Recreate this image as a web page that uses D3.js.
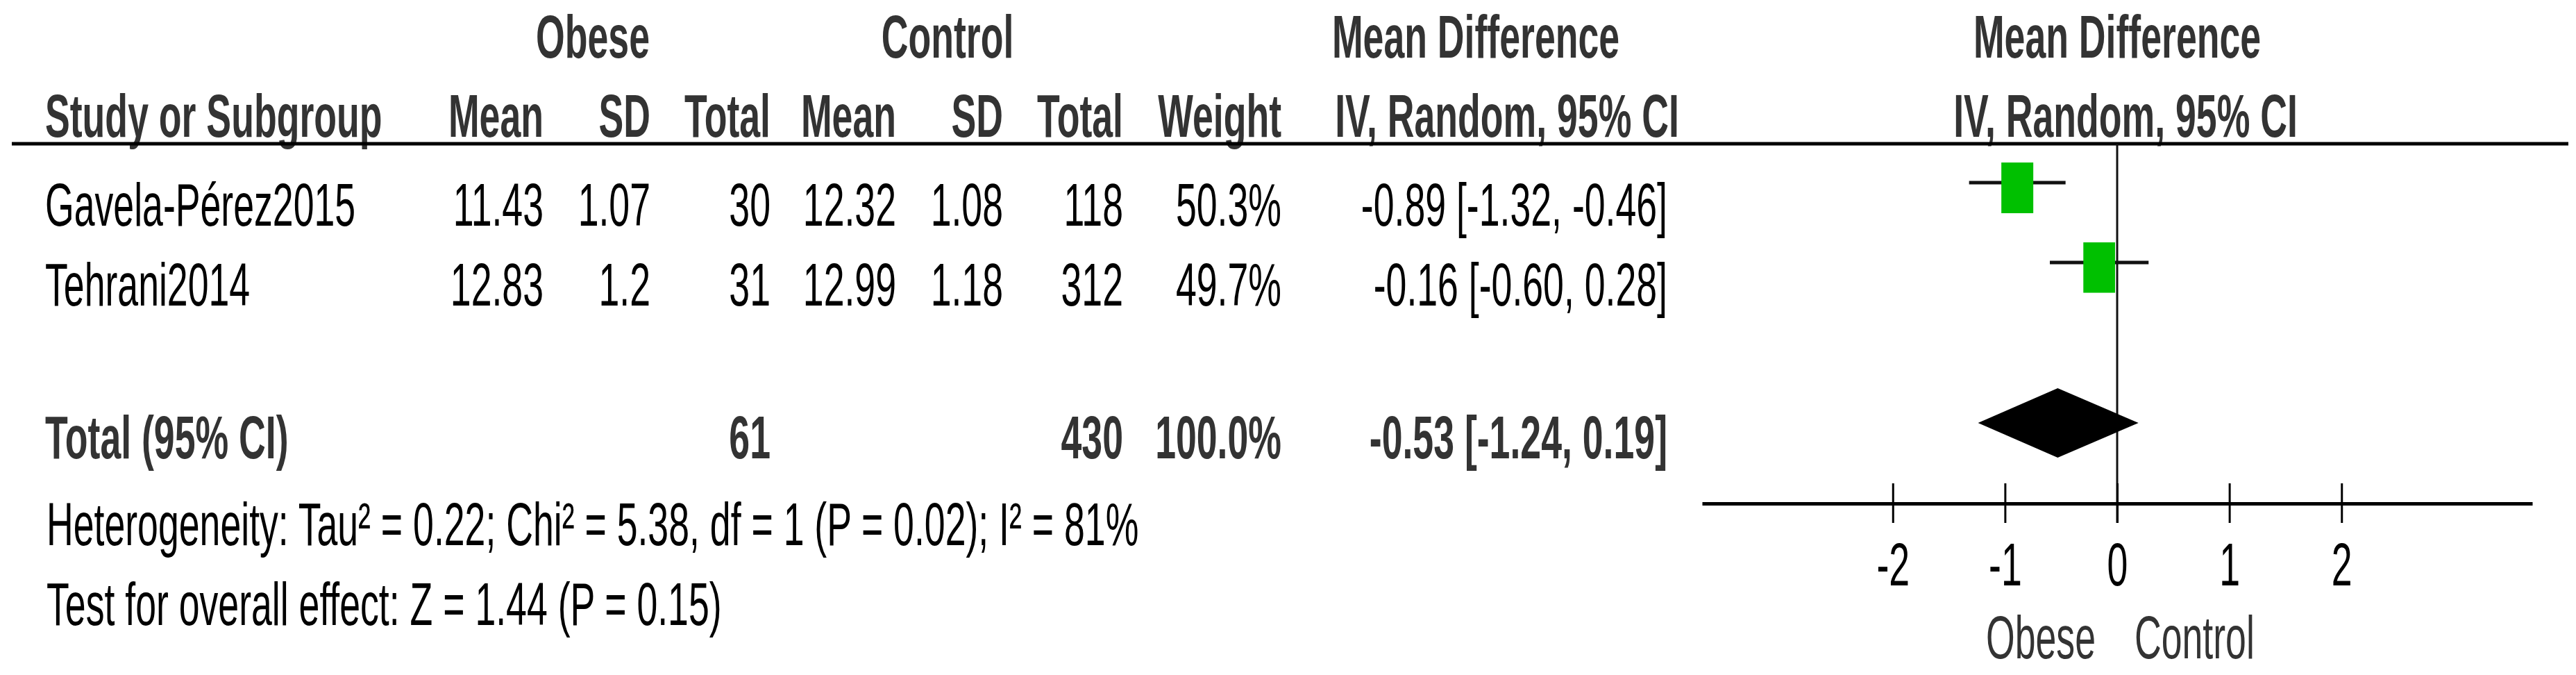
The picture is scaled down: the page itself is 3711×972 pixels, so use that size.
<html>
<head>
<meta charset="utf-8">
<script src="https://d3js.org/d3.v7.min.js"></script>
<style>
  body { margin: 0; background: white; }
  text { font-family: "Liberation Sans", Arial, sans-serif; }
</style>
</head>
<body>
<svg width="3711" height="972"></svg>

<script>
// study rows
var studies = ["Gavela-Pérez2015", "Tehrani2014"];
var obeseMean = [11.43, 12.83];
var obeseSD = [1.07, 1.2];
var obeseN = [30, 31];
var controlMean = [12.32, 12.99];
var controlSD = [1.08, 1.18];
var controlN = [118, 312];
var weights = [50.3, 49.7];
var md = [-0.89, -0.16];
var mdLow = [-1.32, -0.60];
var mdHigh = [-0.46, 0.28];

// pooled
var totalLabel = "Total (95% CI)";
var totalObeseN = 61;
var totalControlN = 430;
var totalWeight = 100.0;
var totalMD = -0.53;
var totalLow = -1.24;
var totalHigh = 0.19;

var heterogeneity = "Heterogeneity: Tau² = 0.22; Chi² = 5.38, df = 1 (P = 0.02); I² = 81%";
var overallEffect = "Test for overall effect: Z = 1.44 (P = 0.15)";

var tickValues = [-2, -1, 0, 1, 2];
var favours = ["Obese", "Control"];

var svg = d3.select("svg");
var fs = 86.5;   // font size
var sx = 0.62;   // text is squeezed horizontally

function label(x, y, s, anchor, bold, color) {
  return svg.append("text")
    .attr("transform", "translate(" + x + "," + y + ") scale(" + sx + ",1)")
    .attr("text-anchor", anchor || "start")
    .style("font-size", fs + "px")
    .style("font-weight", bold ? "bold" : "normal")
    .style("fill", color || "#000")
    .text(s);
}

// plain hyphen for negatives, like the original
function f2(v) { return v.toFixed(2); }
function ci(m, l, h) { return f2(m) + " [" + f2(l) + ", " + f2(h) + "]"; }

// column right edges
var colMeanO = 783, colSDO = 937, colNO = 1110;
var colMeanC = 1291, colSDC = 1445, colNC = 1618;
var colW = 1846, colCI = 2402;

// header
var hd = "#333";
label(854, 83, "Obese", "middle", true, hd);
label(1365, 83, "Control", "middle", true, hd);
label(2126, 83, "Mean Difference", "middle", true, hd);
label(3050, 83, "Mean Difference", "middle", true, hd);

label(65, 197, "Study or Subgroup", "start", true, hd);
label(colMeanO, 197, "Mean", "end", true, hd);
label(colSDO, 197, "SD", "end", true, hd);
label(colNO, 197, "Total", "end", true, hd);
label(colMeanC, 197, "Mean", "end", true, hd);
label(colSDC, 197, "SD", "end", true, hd);
label(colNC, 197, "Total", "end", true, hd);
label(colW, 197, "Weight", "end", true, hd);
label(2171, 197, "IV, Random, 95% CI", "middle", true, hd);
label(3062, 197, "IV, Random, 95% CI", "middle", true, hd);

svg.append("line")
  .attr("x1", 17).attr("x2", 3700)
  .attr("y1", 207).attr("y2", 207)
  .style("stroke", "#000").style("stroke-width", 5);

// scale for the plot
var x = d3.scaleLinear().domain([-3.7, 3.7]).range([2452, 3648]);

var rowBase = [325, 440];
var totalBase = 660;

// study text
studies.forEach(function(s, i) {
  var y = rowBase[i];
  label(65, y, s);
  label(colMeanO, y, obeseMean[i], "end");
  label(colSDO, y, obeseSD[i], "end");
  label(colNO, y, obeseN[i], "end");
  label(colMeanC, y, controlMean[i], "end");
  label(colSDC, y, controlSD[i], "end");
  label(colNC, y, controlN[i], "end");
  label(colW, y, weights[i].toFixed(1) + "%", "end");
  label(colCI, y, ci(md[i], mdLow[i], mdHigh[i]), "end");
});

// total row
label(65, totalBase, totalLabel, "start", true, hd);
label(colNO, totalBase, totalObeseN, "end", true, hd);
label(colNC, totalBase, totalControlN, "end", true, hd);
label(colW, totalBase, totalWeight.toFixed(1) + "%", "end", true, hd);
label(colCI, totalBase, ci(totalMD, totalLow, totalHigh), "end", true, hd);

label(67, 785, heterogeneity);
label(67, 900, overallEffect);

// zero line
svg.append("line")
  .attr("x1", x(0)).attr("x2", x(0))
  .attr("y1", 207).attr("y2", 753)
  .style("stroke", "#111").style("stroke-width", 3);

// CI whiskers and boxes
studies.forEach(function(s, i) {
  var y = rowBase[i] - 62;
  svg.append("line")
    .attr("x1", x(mdLow[i])).attr("x2", x(mdHigh[i]))
    .attr("y1", y).attr("y2", y)
    .style("stroke", "#111").style("stroke-width", 5);
  var w = 46 * Math.sqrt(weights[i] / 50.3), h = 73 * Math.sqrt(weights[i] / 50.3);
  svg.append("rect")
    .attr("x", x(md[i]) - w / 2).attr("y", y - 29)
    .attr("width", w).attr("height", h)
    .style("fill", "#00c000");
});

// pooled diamond
var dy = totalBase - 51;
svg.append("path")
  .attr("d", "M" + x(totalLow) + "," + dy +
             "L" + x(totalMD) + "," + (dy - 50) +
             "L" + x(totalHigh) + "," + dy +
             "L" + x(totalMD) + "," + (dy + 50) + "Z")
  .style("fill", "#000");

// axis
var ax = svg.append("g")
  .attr("transform", "translate(0,725)")
  .call(d3.axisBottom(x).tickValues(tickValues).tickSizeOuter(0).tickFormat(function(d) { return String(d); }));
ax.select(".domain").style("stroke", "#000").style("stroke-width", 5);
ax.selectAll(".tick line").attr("y1", -29).attr("y2", 28)
  .style("stroke", "#000").style("stroke-width", 3);
ax.selectAll(".tick text")
  .attr("y", 0).attr("dy", 0)
  .attr("transform", "translate(0,118) scale(" + sx + ",1)")
  .style("font-family", "'Liberation Sans', Arial, sans-serif")
  .style("font-size", fs + "px")
  .style("fill", "#000");

label(x(0) - 31, 948, favours[0], "end", false, hd);
label(x(0) + 25, 948, favours[1], "start", false, hd);
</script>
</body>
</html>
